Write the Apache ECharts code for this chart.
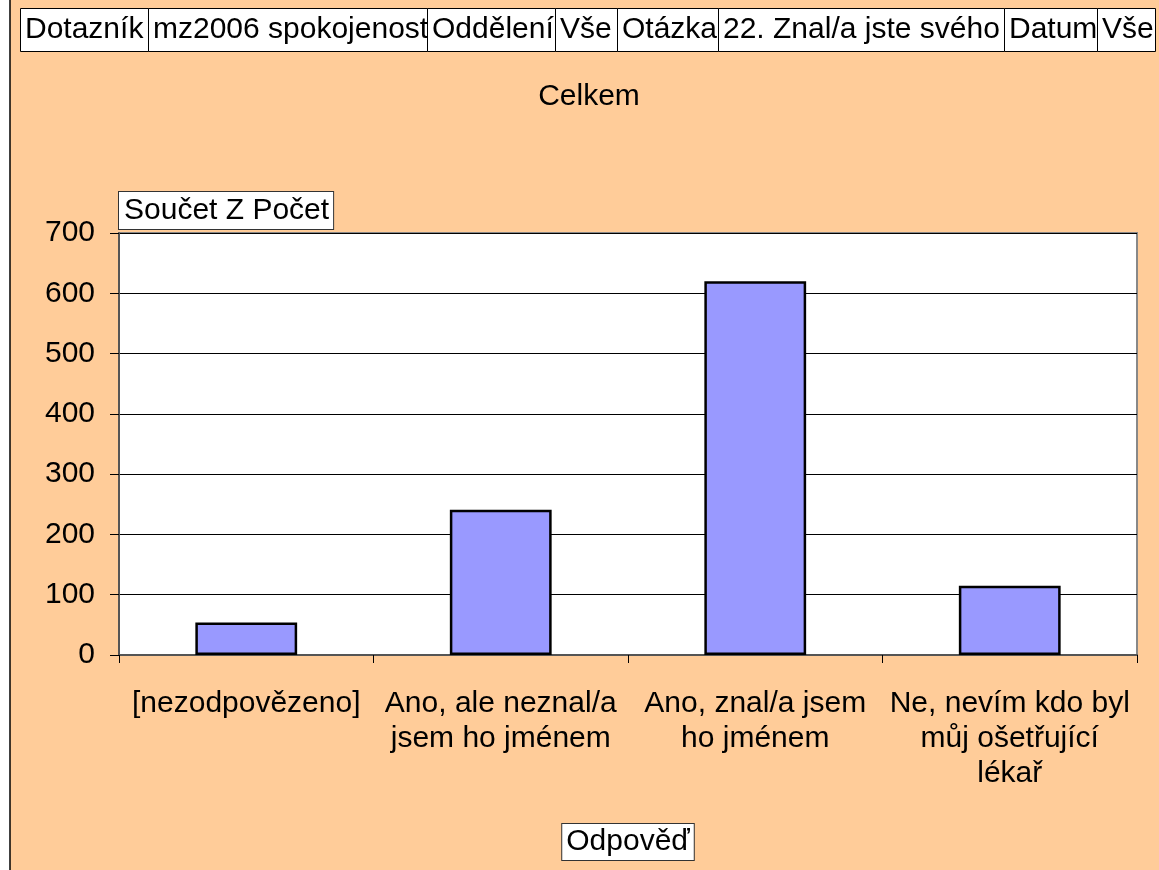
<!DOCTYPE html>
<html>
<head>
<meta charset="utf-8">
<script src="https://cdn.jsdelivr.net/npm/echarts@6/dist/echarts.min.js"></script>
<style>
    html, body { margin: 0; padding: 0; background: #fff; }
    #chart { width: 1159px; height: 870px; }
</style>
</head>
<body>
<div id="chart"></div>
<script>
// header filter row (label, value pairs as shown in the pivot chart)
let headerTexts = ['Dotazník', 'mz2006 spokojenost', 'Oddělení', 'Vše', 'Otázka', '22. Znal/a jste svého', 'Datum', 'Vše'];
let headerEdges = [20, 148, 427, 555, 617, 718, 1004, 1097, 1155];

let categories = [
    '[nezodpovězeno]',
    'Ano, ale neznal/a\njsem ho jménem',
    'Ano, znal/a jsem\nho jménem',
    'Ne, nevím kdo byl\nmůj ošetřující\nlékař'
];
let counts = [54, 241, 620, 115];
let yTicks = [0, 100, 200, 300, 400, 500, 600, 700];

let font = "'Liberation Sans', Arial, sans-serif";
let fontSize = 30;

let myChart = echarts.init(document.getElementById('chart'));

let graphics = [
    { type: 'rect', shape: { x: 0, y: 0, width: 10, height: 870 }, style: { fill: '#fff' }, silent: true },
    { type: 'line', shape: { x1: 10, y1: 0, x2: 10, y2: 870 }, style: { stroke: '#000', lineWidth: 1.5 }, silent: true }
];
// each cell box is drawn after the previous text, so overflowing text gets cut at the border
for (let i = 0; i < headerTexts.length; i++) {
    let x0 = headerEdges[i];
    let w = headerEdges[i + 1] - x0;
    graphics.push({
        type: 'rect',
        z: 10 + i * 2,
        shape: { x: x0 + 0.5, y: 8.5, width: w, height: 43 },
        style: { fill: '#fff', stroke: '#000', lineWidth: 1 },
        silent: true
    });
    graphics.push({
        type: 'text',
        z: 11 + i * 2,
        x: x0 + 5,
        y: 30,
        style: {
            text: headerTexts[i],
            font: fontSize + 'px ' + font,
            fill: '#000',
            verticalAlign: 'middle'
        },
        silent: true
    });
}

let option = {
    backgroundColor: '#FFCC99',
    animation: false,
    title: {
        text: 'Celkem',
        left: 589,
        top: 82,
        textAlign: 'center',
        padding: 0,
        textStyle: { fontFamily: font, fontSize: fontSize, fontWeight: 'normal', color: '#000' }
    },
    grid: {
        left: 119,
        right: 22,
        top: 233,
        bottom: 215,
        show: true,
        backgroundColor: '#fff',
        borderColor: '#888',
        borderWidth: 2
    },
    xAxis: {
        type: 'category',
        data: categories,
        boundaryGap: true,
        name: 'Odpověď',
        nameLocation: 'middle',
        nameGap: 169,
        nameTextStyle: {
            fontFamily: font,
            fontSize: fontSize,
            color: '#000',
            backgroundColor: '#fff',
            borderColor: '#333',
            borderWidth: 1,
            padding: [3, 4, 3, 4]
        },
        axisLine: { lineStyle: { color: '#555', width: 2 } },
        axisTick: { show: true, inside: false, length: 8, lineStyle: { color: '#000' } },
        axisLabel: {
            interval: 0,
            margin: 31,
            fontFamily: font,
            fontSize: fontSize,
            lineHeight: 35,
            color: '#000',
            align: 'center'
        },
        splitLine: { show: false }
    },
    yAxis: {
        type: 'value',
        min: yTicks[0],
        max: yTicks[yTicks.length - 1],
        interval: 100,
        name: 'Součet Z Počet',
        nameLocation: 'end',
        nameGap: 4,
        nameTextStyle: {
            fontFamily: font,
            fontSize: fontSize,
            color: '#000',
            align: 'left',
            verticalAlign: 'bottom',
            backgroundColor: '#fff',
            borderColor: '#333',
            borderWidth: 1,
            padding: [4, 4, 3, 5]
        },
        axisLine: { show: true, lineStyle: { color: '#555', width: 2 } },
        axisTick: { show: true, inside: false, length: 9, lineStyle: { color: '#000' } },
        axisLabel: {
            margin: 24,
            fontFamily: font,
            fontSize: fontSize,
            color: '#000'
        },
        splitLine: { show: true, lineStyle: { color: '#000', width: 1 } }
    },
    series: [{
        type: 'bar',
        data: counts,
        barWidth: '40%',
        itemStyle: {
            color: '#9999FF',
            borderColor: '#000',
            borderWidth: 2.5
        }
    }],
    graphic: graphics
};

myChart.setOption(option);

window.addEventListener('resize', function () {
    myChart.resize();
});
</script>
</body>
</html>
